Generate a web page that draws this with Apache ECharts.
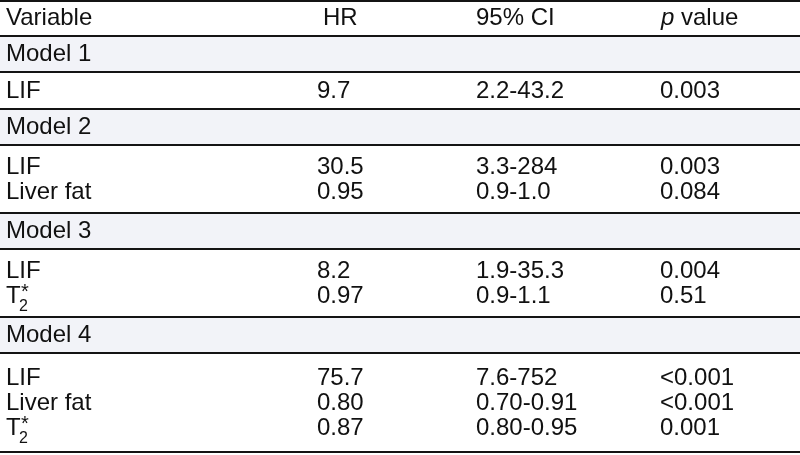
<!DOCTYPE html>
<html><head><meta charset="utf-8">
<script src="https://cdn.jsdelivr.net/npm/echarts@6/dist/echarts.min.js"></script>
<style>html,body{margin:0;padding:0;background:#fff}#c{width:800px;height:455px}</style>
</head><body><div id="c"></div>
<script>
// ---- table content ----
const headers = ['Variable', 'HR', '95% CI', 'p value'];
const models = ['Model 1', 'Model 2', 'Model 3', 'Model 4'];
const rowModel = [0, 1, 1, 2, 2, 3, 3, 3];
const variables = ['LIF', 'LIF', 'Liver fat', 'LIF', 'T2*', 'LIF', 'Liver fat', 'T2*'];
const hr = ['9.7', '30.5', '0.95', '8.2', '0.97', '75.7', '0.80', '0.87'];
const ci = ['2.2-43.2', '3.3-284', '0.9-1.0', '1.9-35.3', '0.9-1.1', '7.6-752', '0.70-0.91', '0.80-0.95'];
const pValues = ['0.003', '0.003', '0.084', '0.004', '0.51', '<0.001', '<0.001', '0.001'];

// ---- layout ----
const FONT_FAMILY = '"Liberation Sans", Arial, Helvetica, sans-serif';
const FS = 24;
const TEXT = '#111';
const LINE = '#141414';
const GROUP_BG = '#f2f3f8';
const COL_X = [6, 317, 476, 660];
const HEAD_X = [6, 323, 476, 661];
const TOP = 1, HEADER_H = 35, GROUP_H = 36;
const BLOCK_PAD = 6, BLOCK_ROW_H = 31, TEXT_STEP = 25, TEXT_OFF = 0.5;

// build rows
const rows = [];
let y = TOP;
rows.push({ kind: 'header', top: y, bottom: y + HEADER_H, cy: y + HEADER_H / 2 });
y += HEADER_H;
models.forEach((m, mi) => {
  rows.push({ kind: 'group', label: m, top: y, bottom: y + GROUP_H, cy: y + GROUP_H / 2 });
  y += GROUP_H;
  const idx = rowModel.map((v, i) => v === mi ? i : -1).filter(i => i >= 0);
  const n = idx.length;
  const h = BLOCK_PAD + n * BLOCK_ROW_H;
  const mid = y + h / 2 + TEXT_OFF;
  idx.forEach((i, k) => {
    rows.push({ kind: 'data', i, cy: mid + (k - (n - 1) / 2) * TEXT_STEP, last: k === n - 1 });
  });
  y += h;
  rows[rows.length - 1].bottom = y;
});
const lineYs = [TOP];
rows.forEach(r => { if (r.kind !== 'data' || r.last) lineYs.push(r.bottom); });

function txt(api, x, yv, s, extra) {
  const p = api.coord([x, yv]);
  return { type: 'text', style: Object.assign({ x: p[0], y: p[1], text: s, font: FS + 'px ' + FONT_FAMILY, fill: TEXT, align: 'left', verticalAlign: 'middle' }, extra || {}) };
}
function varCell(api, x, yv, s) {
  if (s === 'T2*') {
    const g = [txt(api, x, yv, 'T')];
    g.push(txt(api, x + 13, yv + 11, '2', { font: '16px ' + FONT_FAMILY }));
    g.push(txt(api, x + 15, yv - 4, '*', { font: '20px ' + FONT_FAMILY }));
    return g;
  }
  return [txt(api, x, yv, s)];
}

const chart = echarts.init(document.getElementById('c'), null, { renderer: 'canvas' });
chart.setOption({
  animation: false,
  grid: { left: 0, right: 0, top: 0, bottom: 0 },
  xAxis: { type: 'value', min: 0, max: 800, show: false },
  yAxis: { type: 'value', min: 0, max: 455, inverse: true, show: false },
  series: [
    {
      type: 'custom', coordinateSystem: 'cartesian2d', silent: true, clip: false,
      data: rows.map((r, k) => [k]),
      renderItem: (params, api) => {
        const r = rows[api.value(0)];
        const children = [];
        if (r.kind === 'header') {
          headers.forEach((h, c) => {
            if (h === 'p value') {
              const p = api.coord([HEAD_X[c], r.cy]);
              children.push({ type: 'text', style: { x: p[0], y: p[1], text: '{i|p} value', font: FS + 'px ' + FONT_FAMILY, fill: TEXT, verticalAlign: 'middle',
                rich: { i: { fontStyle: 'italic', fontSize: FS, fontFamily: FONT_FAMILY, fill: TEXT } } } });
            } else children.push(txt(api, HEAD_X[c], r.cy, h));
          });
        } else if (r.kind === 'group') {
          const a = api.coord([0, r.top]), b = api.coord([800, r.bottom]);
          children.push({ type: 'rect', shape: { x: a[0], y: a[1], width: b[0] - a[0], height: b[1] - a[1] }, style: { fill: GROUP_BG } });
          children.push(txt(api, COL_X[0], r.cy, r.label));
        } else {
          const i = r.i;
          varCell(api, COL_X[0], r.cy, variables[i]).forEach(e => children.push(e));
          children.push(txt(api, COL_X[1], r.cy, hr[i]));
          children.push(txt(api, COL_X[2], r.cy, ci[i]));
          children.push(txt(api, COL_X[3], r.cy, pValues[i]));
        }
        return { type: 'group', children };
      }
    },
    {
      type: 'custom', coordinateSystem: 'cartesian2d', silent: true, clip: false, z: 5,
      data: lineYs.map(v => [v]),
      renderItem: (params, api) => {
        const a = api.coord([0, api.value(0)]), b = api.coord([800, api.value(0)]);
        return { type: 'line', shape: { x1: a[0], y1: a[1], x2: b[0], y2: b[1] }, style: { stroke: LINE, lineWidth: 2 } };
      }
    }
  ]
});
</script></body></html>
